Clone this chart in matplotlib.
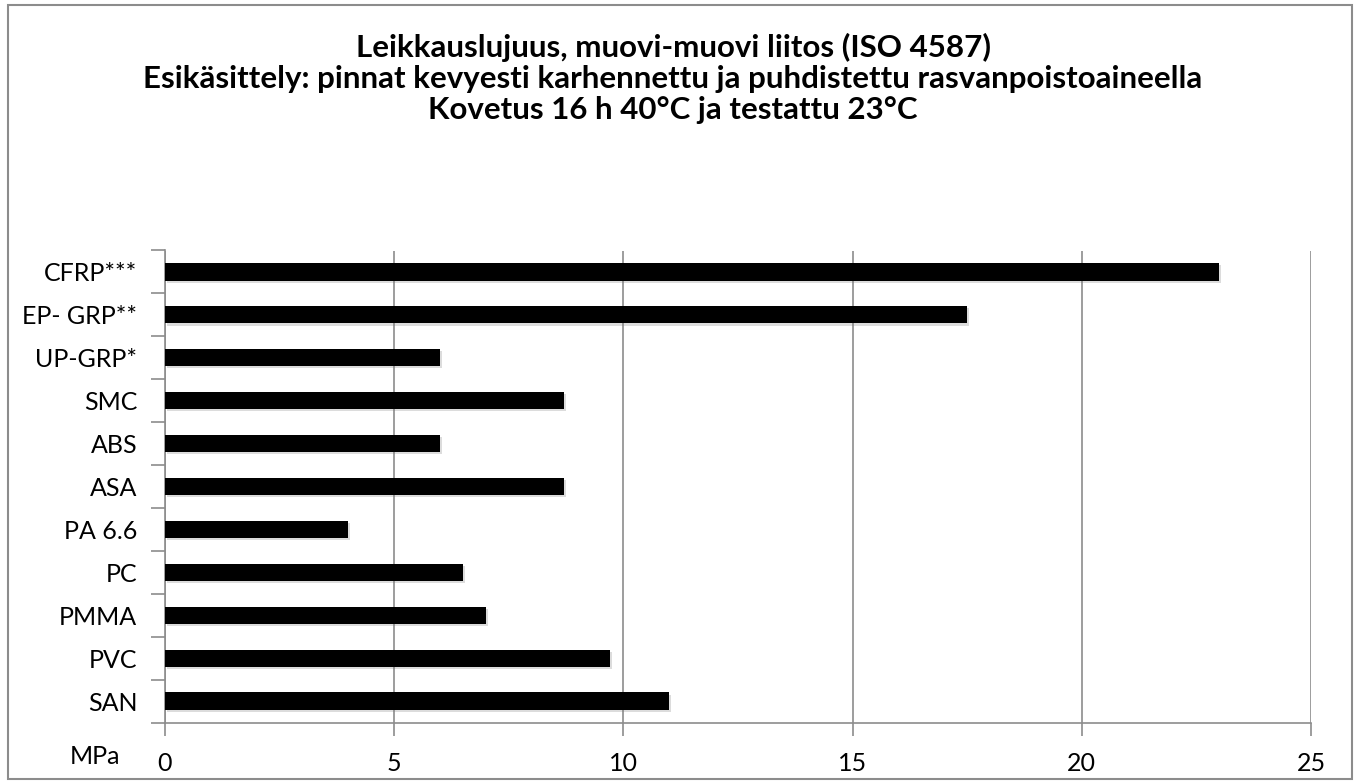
import matplotlib.pyplot as plt
from matplotlib import patheffects
from matplotlib.patches import Rectangle

# shear strength of plastic-plastic bonds, MPa
materials = ['SAN', 'PVC', 'PMMA', 'PC', 'PA 6.6', 'ASA', 'ABS', 'SMC',
             'UP-GRP*', 'EP- GRP**', 'CFRP***']
strength = [11, 9.7, 7, 6.5, 4, 8.7, 6, 8.7, 6, 17.5, 23]
xticks = [0, 5, 10, 15, 20, 25]

title = ('Leikkauslujuus, muovi-muovi liitos (ISO 4587)\n'
         'Esikäsittely: pinnat kevyesti karhennettu ja puhdistettu rasvanpoistoaineella\n'
         'Kovetus 16 h 40°C ja testattu 23°C')

plt.rcParams['font.family'] = ['Lato', 'DejaVu Sans']

W, H = 1357, 784
fig = plt.figure(figsize=(W / 100, H / 100), dpi=100)
fig.patch.set_facecolor('white')

# outer frame
fig.patches.append(Rectangle((8 / W, 1 - 779 / H), (1352 - 8) / W, (779 - 5) / H,
                             transform=fig.transFigure, fill=False,
                             edgecolor='#8c8c8c', linewidth=1.5))

ax = fig.add_axes([165 / W, 1 - 722.5 / H, (1311 - 165) / W, (722.5 - 250.5) / H])

pos = list(range(len(materials)))
bars = ax.barh(pos, strength, height=0.4, color='black', zorder=3)
for b in bars:
    b.set_path_effects([patheffects.SimplePatchShadow(offset=(1.5, -1.5), shadow_rgbFace='#777777', alpha=0.25),
                        patheffects.Normal()])

ax.set_xlim(0, 25)
ax.set_ylim(-0.5, len(materials) - 0.5)
ax.set_xticks(xticks)
ax.set_xticklabels([str(t) for t in xticks], fontsize=18)
ax.set_yticks(pos)
ax.set_yticklabels(materials, fontsize=18)
ax.set_yticks([p - 0.5 for p in pos] + [len(pos) - 0.5], minor=True)

ax.tick_params(axis='y', which='major', length=0, pad=20)
ax.tick_params(axis='y', which='minor', length=10, width=1.2, color='#8c8c8c')
ax.tick_params(axis='x', length=9, width=1.2, color='#8c8c8c', pad=12)

ax.grid(axis='x', color='#8c8c8c', linewidth=1.2, zorder=0)
for side in ['top', 'right']:
    ax.spines[side].set_visible(False)
for side in ['left', 'bottom']:
    ax.spines[side].set_color('#8c8c8c')
    ax.spines[side].set_linewidth(1.2)

fig.text(0.496, 1 - 78.5 / H, title, ha='center', va='center', fontsize=22.5,
         fontweight='bold', linespacing=1.15)
fig.text(95 / W, 1 - 757 / H, 'MPa', ha='center', va='center', fontsize=18)

fig.savefig('out.png', dpi=100)
